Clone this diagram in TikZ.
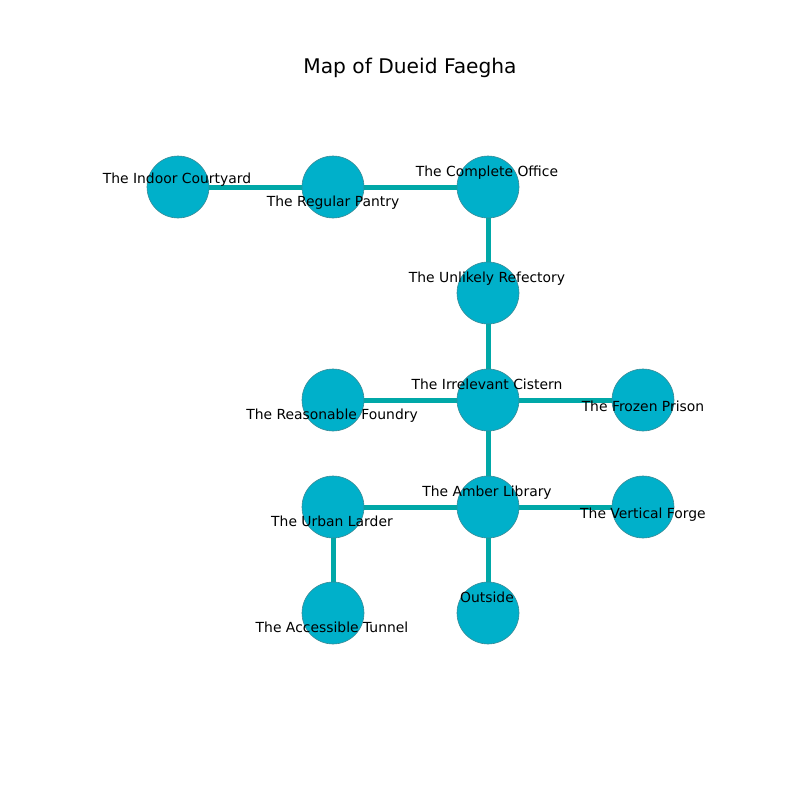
\documentclass[tikz,border=0pt]{standalone}
\usepackage{fontspec}
\setmainfont{DejaVu Sans}
\definecolor{nodefill}{HTML}{00B0CA}
\definecolor{edgecol}{HTML}{00A8A8}
\definecolor{rimcol}{HTML}{3A8A96}
\begin{document}
\begin{tikzpicture}[x=1pt,y=-1pt,
  room/.style={circle,fill=nodefill,draw=rimcol,line width=0.6pt,minimum size=62pt,inner sep=0pt},
  link/.style={draw=edgecol,line width=5pt},
  lbl/.style={anchor=base,inner sep=0pt,font=\fontsize{13.9}{16}\selectfont},
  ttl/.style={anchor=base,inner sep=0pt,font=\fontsize{20.2}{24}\selectfont}]
\useasboundingbox (0,0) rectangle (800,800);
\fill[white] (0,0) rectangle (800,800);
\coordinate (ic) at (178,187);
\coordinate (rp) at (333,187);
\coordinate (co) at (488,187);
\coordinate (ur) at (488,293);
\coordinate (ci) at (488,400);
\coordinate (rf) at (333,400);
\coordinate (fp) at (643,400);
\coordinate (al) at (488,507);
\coordinate (ul) at (333,507);
\coordinate (vf) at (643,507);
\coordinate (at) at (333,613);
\coordinate (ou) at (488,613);
\draw[link] (ic) -- (rp);
\draw[link] (rp) -- (co);
\draw[link] (co) -- (ur);
\draw[link] (ur) -- (ci);
\draw[link] (ci) -- (rf);
\draw[link] (ci) -- (fp);
\draw[link] (ci) -- (al);
\draw[link] (al) -- (ul);
\draw[link] (al) -- (vf);
\draw[link] (ul) -- (at);
\draw[link] (al) -- (ou);
\foreach \n in {ic,rp,co,ur,ci,rf,fp,al,ul,vf,at,ou} {\node[room] (n\n) at (\n) {};}
\node[ttl] (title) at (410,74) {Map of Dueid Faegha};
\node[lbl] (lic) at (177,183) {The Indoor Courtyard};
\node[lbl] (lrp) at (333,206) {The Regular Pantry};
\node[lbl] (lco) at (487,176) {The Complete Office};
\node[lbl] (lur) at (487,282) {The Unlikely Refectory};
\node[lbl] (lci) at (487,389) {The Irrelevant Cistern};
\node[lbl] (lrf) at (332,419) {The Reasonable Foundry};
\node[lbl] (lfp) at (643,411) {The Frozen Prison};
\node[lbl] (lal) at (487,496) {The Amber Library};
\node[lbl] (lul) at (332,526) {The Urban Larder};
\node[lbl] (lvf) at (643,518) {The Vertical Forge};
\node[lbl] (lat) at (332,632) {The Accessible Tunnel};
\node[lbl] (lou) at (487,602) {Outside};
\end{tikzpicture}
\end{document}
